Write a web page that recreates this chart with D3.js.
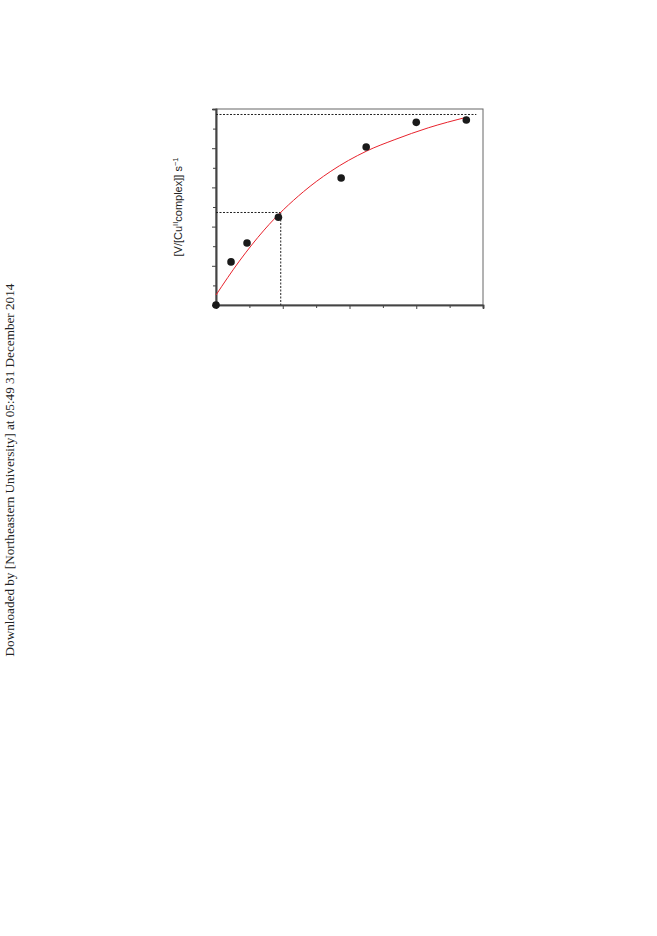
<!DOCTYPE html>
<html><head><meta charset="utf-8">
<script src="https://cdn.jsdelivr.net/npm/d3@7"></script>
<style>html,body{margin:0;padding:0;background:#fff;}svg{display:block;}</style>
</head><body>
<script>
// Data
const pointX = [0, 0.45, 0.93, 1.87, 3.75, 4.5, 6.0, 7.5];
const pointY = [0, 1.10, 1.58, 2.24, 3.24, 4.03, 4.66, 4.72];
const fitX = [0, 0.7, 1.44, 2.62, 3.42, 4.52, 5.36, 6.36, 7.51];
const fitY = [0.255, 1.12, 1.91, 2.89, 3.40, 3.93, 4.22, 4.52, 4.79];
const vmax = 4.86, vmaxEnd = 7.8;
const halfX = 1.94, halfY = 2.36;
const xMajor = [0, 2, 4, 6, 8], xMinor = [1, 3, 5, 7];
const yMajor = [0, 1, 2, 3, 4, 5], yMinor = [0.5, 1.5, 2.5, 3.5, 4.5];
const yLabel = ["[V/[Cu", "II", "complex]] s", "−1"];
const watermark = "Downloaded by [Northeastern University] at 05:49 31 December 2014";

const W = 657, H = 936;
const svg = d3.select("body").append("svg").attr("width", W).attr("height", H);
const L = 216, R = 483, T = 109, B = 305;
const x = d3.scaleLinear().domain([0, 8]).range([L, R]);
const y = d3.scaleLinear().domain([0, 5]).range([B, T]);

// frame
svg.append("rect").attr("x", L).attr("y", T).attr("width", R - L).attr("height", B - T)
  .attr("fill", "none").attr("stroke", "#666").attr("stroke-width", 1);

// axes
const axisColor = "#444";
const gx = svg.append("g").attr("transform", `translate(0,${B})`);
gx.call(d3.axisBottom(x).tickValues(xMajor).tickSize(4).tickFormat(""));
const gx2 = svg.append("g").attr("transform", `translate(0,${B})`);
gx2.call(d3.axisBottom(x).tickValues(xMinor).tickSize(3).tickFormat(""));
const gy = svg.append("g").attr("transform", `translate(${L},0)`);
gy.call(d3.axisLeft(y).tickValues(yMajor).tickSize(4).tickFormat(""));
const gy2 = svg.append("g").attr("transform", `translate(${L},0)`);
gy2.call(d3.axisLeft(y).tickValues(yMinor).tickSize(3).tickFormat(""));
[gx, gx2, gy, gy2].forEach(g => {
  g.selectAll("path.domain").attr("stroke", axisColor).attr("stroke-width", 1.6);
  g.selectAll(".tick line").attr("stroke", axisColor).attr("stroke-width", 1);
});

// dotted guides
const dash = "2,1.5";
svg.append("line").attr("x1", x(0)).attr("x2", x(vmaxEnd)).attr("y1", y(vmax)).attr("y2", y(vmax))
  .attr("stroke", "#222").attr("stroke-width", 1).attr("stroke-dasharray", dash);
svg.append("line").attr("x1", x(0)).attr("x2", x(halfX)).attr("y1", y(halfY)).attr("y2", y(halfY))
  .attr("stroke", "#222").attr("stroke-width", 1).attr("stroke-dasharray", dash);
svg.append("line").attr("x1", x(halfX)).attr("x2", x(halfX)).attr("y1", y(halfY)).attr("y2", y(0))
  .attr("stroke", "#222").attr("stroke-width", 1).attr("stroke-dasharray", dash);

// fit curve
const fit = fitX.map((v, i) => [v, fitY[i]]);
svg.append("path").datum(fit)
  .attr("d", d3.line().x(d => x(d[0])).y(d => y(d[1])).curve(d3.curveMonotoneX))
  .attr("fill", "none").attr("stroke", "#e8222c").attr("stroke-width", 1);

// points
const pts = pointX.map((v, i) => [v, pointY[i]]);
svg.selectAll("circle.pt").data(pts).enter().append("circle").attr("class", "pt")
  .attr("cx", d => x(d[0])).attr("cy", d => y(d[1])).attr("r", 3.8).attr("fill", "#1a1a1a");

// y label
const yl = svg.append("text").attr("transform", `translate(182,${(T + B) / 2}) rotate(-90)`)
  .attr("text-anchor", "middle").attr("font-family", "Liberation Sans, Arial, sans-serif")
  .attr("font-size", 11).attr("fill", "#222");
yl.append("tspan").text(yLabel[0]);
yl.append("tspan").attr("dy", -4).attr("font-size", 7.5).text(yLabel[1]);
yl.append("tspan").attr("dy", 4).text(yLabel[2]);
yl.append("tspan").attr("dy", -4).attr("font-size", 7.5).text(yLabel[3]);

// watermark
svg.append("text").attr("transform", `translate(14,470) rotate(-90)`)
  .attr("text-anchor", "middle").attr("font-family", "Liberation Serif, Times New Roman, serif")
  .attr("font-size", 13.2).attr("fill", "#222").text(watermark);
</script>
</body></html>
